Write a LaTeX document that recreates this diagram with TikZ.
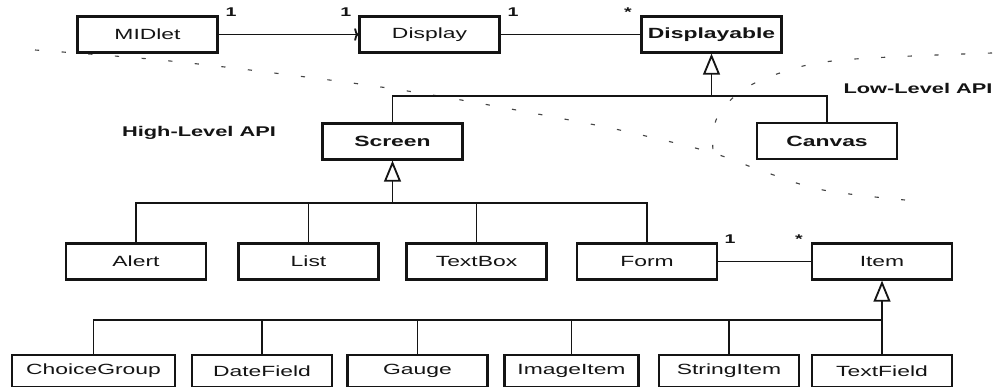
\documentclass[tikz,border=0pt]{standalone}
\usepackage{fontspec}
\setmainfont{Liberation Sans}[FakeStretch=1.55]
\usepackage{tikz}
\usetikzlibrary{arrows.meta}
\definecolor{umlink}{RGB}{20,20,20}
\definecolor{sepgray}{RGB}{70,70,70}
\tikzset{
  % Class box (regular / bold name)
  cls/.style={rectangle, draw=umlink, line width=1.5pt, fill=white,
              font=\fontsize{10.5}{12}\selectfont, text=umlink,
              minimum width=3.5cm, minimum height=0.9cm, inner sep=2pt},
  clsb/.style={cls, font=\fontsize{10.5}{12}\selectfont\bfseries},
  % Bottom row boxes
  leaf/.style={cls, minimum height=0.8cm},
  % Connectors
  link/.style={draw=umlink, line width=1.3pt},
  gen/.style ={link, -{Triangle[open, length=15pt, width=12pt, line width=1.3pt]}},
  nav/.style ={link, -{To[length=3pt, width=9pt]}},
  mult/.style={font=\fontsize{9}{10}\selectfont\bfseries, text=umlink, above=0.3cm},
  api/.style ={font=\fontsize{10}{12}\selectfont\bfseries, text=umlink},
  sep/.style ={draw=sepgray, line width=0.8pt, dash pattern=on 3pt off 16pt},
}
\begin{document}
\begin{tikzpicture}[x=0.025cm,y=-0.025cm]
    \useasboundingbox (0,0) rectangle (999,387);

    % ── API boundary (dashed) ─────────────────────────────
    \draw[sep] plot[smooth, tension=0.6] coordinates
          {(35,50) (160,60) (290,75) (420,93) (580,122) (650,137)
           (713,153) (765,172) (823,190) (905,200)};
    \draw[sep] plot[smooth, tension=0.6] coordinates
          {(992,53) (842,60) (780,73) (740,92) (716,120) (713,153)};

    % ── Top row ───────────────────────────────────────────
    \node[cls]  (midlet)      at (147.5,34.5) {MIDlet};
    \node[cls]  (display)     at (429.5,34.5) {Display};
    \node[clsb] (displayable) at (711.5,34.5) {Displayable};

    \draw[nav] (midlet) -- (display)
          node[mult,pos=.09] {1} node[mult,pos=.91] {1};
    \draw[link] (display) -- (displayable)
          node[mult,pos=.09] {1} node[mult,pos=.91] {*};

    % ── Screen / Canvas ───────────────────────────────────
    \node[clsb] (screen) at (392.5,141.5) {Screen};
    \node[clsb] (canvas) at (827,141)     {Canvas};
    \node[api]  (highapi) at (199,133) {High-Level API};
    \node[api]  (lowapi)  at (918,88)  {Low-Level API};

    \coordinate (bar1) at (0,96);
    \coordinate (dispj) at (displayable.south |- bar1);
    \draw[gen]  (dispj) -- (displayable.south);
    \draw[link] (screen.north) |- (dispj);
    \draw[link] (canvas.north) |- (dispj);

    % ── Screen subclasses ─────────────────────────────────
    \node[cls] (alert)   at (136,261.5)   {Alert};
    \node[cls] (list)    at (308.5,261.5) {List};
    \node[cls] (textbox) at (476.5,261.5) {TextBox};
    \node[cls] (form)    at (647,261.5)   {Form};
    \node[cls] (item)    at (882,261.5)   {Item};

    \coordinate (bar2) at (0,203);
    \coordinate (scrj) at (screen.south |- bar2);
    \draw[gen] (scrj) -- (screen.south);
    \foreach \c in {alert,list,textbox,form}
      \draw[link] (\c.north) |- (scrj);

    \draw[link] (form) -- (item)
          node[mult,pos=.13] {1} node[mult,pos=.87] {*};

    % ── Item subclasses ───────────────────────────────────
    \node[leaf, minimum width=4.08cm] (choicegroup) at (93.5,371) {ChoiceGroup};
    \node[leaf] (datefield)  at (262,371)   {DateField};
    \node[leaf] (gauge)      at (417.5,371) {Gauge};
    \node[leaf, minimum width=3.35cm] (imageitem) at (571.5,371) {ImageItem};
    \node[leaf] (stringitem) at (729,371)   {StringItem};
    \node[leaf] (textfield)  at (882,371)   {TextField};

    \coordinate (bar3) at (0,320);
    \coordinate (itemj) at (item.south |- bar3);
    \draw[gen] (itemj) -- (item.south);
    \foreach \c in {choicegroup,datefield,gauge,imageitem,stringitem}
      \draw[link] (\c.north) |- (itemj);
    \draw[link] (textfield.north) -- (itemj);

\end{tikzpicture}
\end{document}
